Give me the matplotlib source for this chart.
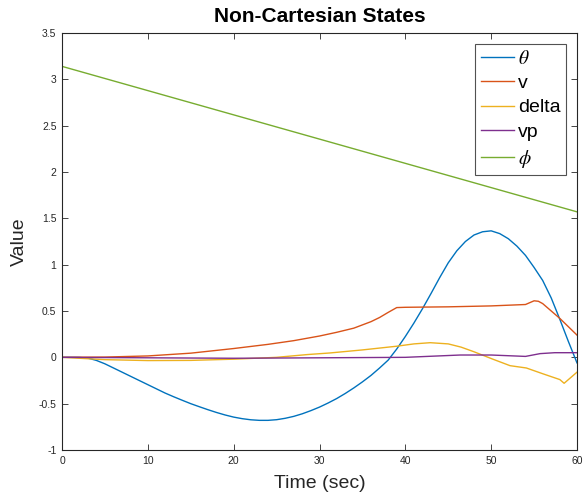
import matplotlib
matplotlib.use("Agg")
import matplotlib.pyplot as plt

plt.rcParams['font.family'] = ['Liberation Sans', 'DejaVu Sans']
plt.rcParams['mathtext.fontset'] = 'stix'

# Data
t_theta = list(range(0, 61))
theta = [0, 0, -0.001, -0.008, -0.033, -0.07, -0.115, -0.16, -0.205, -0.25,
         -0.295, -0.34, -0.385, -0.425, -0.463, -0.50, -0.533, -0.565, -0.595, -0.622,
         -0.645, -0.662, -0.674, -0.68, -0.68, -0.673, -0.658, -0.637, -0.609, -0.575,
         -0.537, -0.493, -0.445, -0.39, -0.33, -0.265, -0.195, -0.115, -0.03, 0.09,
         0.225, 0.37, 0.525, 0.69, 0.86, 1.02, 1.15, 1.25, 1.32, 1.355,
         1.365, 1.335, 1.28, 1.2, 1.1, 0.97, 0.83, 0.64, 0.41, 0.17,
         -0.06]

t_v = [0, 5, 10, 15, 20, 24, 27, 30, 32, 34, 36, 37, 38, 39, 40, 45, 50, 54, 54.5, 55,
       55.5, 56, 57, 58, 59, 60]
v = [0, 0.003, 0.015, 0.045, 0.095, 0.14, 0.18, 0.23, 0.27, 0.315, 0.385, 0.43, 0.485,
     0.537, 0.54, 0.545, 0.555, 0.57, 0.59, 0.61, 0.605, 0.58, 0.50, 0.42, 0.33, 0.24]

t_delta = [0, 5, 10, 15, 20, 25, 28.6, 31.2, 35, 39, 41, 42.9, 45, 46.5, 48, 50.2, 52.2,
           54.1, 56.1, 58, 58.5, 60]
delta = [0, -0.025, -0.035, -0.033, -0.02, 0.0, 0.03, 0.047, 0.08, 0.12, 0.145, 0.158,
         0.145, 0.11, 0.06, -0.02, -0.09, -0.115, -0.18, -0.24, -0.28, -0.16]

t_vp = [0, 10, 20, 30, 40, 46.4, 50, 54, 55.7, 57.4, 60]
vp = [0, -0.005, -0.01, -0.005, 0.0, 0.025, 0.025, 0.01, 0.04, 0.05, 0.05]

t_phi = [0, 60]
phi = [3.14, 1.57]

labels = [r'$\theta$', 'v', 'delta', 'vp', r'$\phi$']
colors = ['#0072BD', '#D95319', '#EDB120', '#7E2F8E', '#77AC30']

fig = plt.figure(figsize=(5.84, 5.0), dpi=100)
ax = fig.add_axes([62/584, 50/500, 515/584, 417/500])

series = [(t_theta, theta), (t_v, v), (t_delta, delta), (t_vp, vp), (t_phi, phi)]
for (tt, yy), lab, c in zip(series, labels, colors):
    ax.plot(tt, yy, color=c, lw=1.0, label=lab)

ax.set_xlim(0, 60)
ax.set_ylim(-1, 3.5)
ax.set_xticks([0, 10, 20, 30, 40, 50, 60])
ax.set_yticks([-1, -0.5, 0, 0.5, 1, 1.5, 2, 2.5, 3, 3.5])
ax.set_yticklabels(['-1', '-0.5', '0', '0.5', '1', '1.5', '2', '2.5', '3', '3.5'])

gray = '#262626'
for s in ax.spines.values():
    s.set_color(gray)
    s.set_linewidth(0.8)
ax.tick_params(direction='in', top=True, right=True, length=4, width=0.6,
               labelsize=7.5, colors=gray, pad=4)

ax.set_xlabel('Time (sec)', fontsize=14, color=gray, labelpad=7)
ax.set_ylabel('Value', fontsize=14, color=gray, labelpad=8)
ax.set_title('Non-Cartesian States', fontsize=15, fontweight='bold', pad=8)

leg = ax.legend(loc='upper right', fontsize=14, frameon=True, fancybox=False,
                edgecolor='#262626', handlelength=1.7, handletextpad=0.2,
                borderaxespad=0.55, labelspacing=0.35, borderpad=0.3)
leg.get_frame().set_linewidth(0.8)

fig.savefig('out.png', dpi=100)
